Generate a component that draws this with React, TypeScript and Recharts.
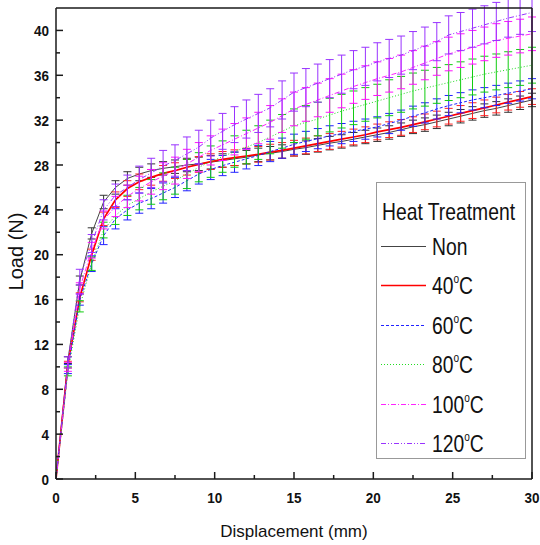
import React from "react";
import {
  ErrorBar,
  Line,
  LineChart,
  ReferenceLine,
  XAxis,
  YAxis,
} from "recharts";

// displacement (mm) where each reading was taken
const displacement = [
  0, 0.75, 1.5, 2.25, 3, 3.75, 4.5, 5.25, 6, 6.75, 7.5, 8.25, 9, 9.75, 10.5,
  11.25, 12, 12.75, 13.5, 14.25, 15, 15.75, 16.5, 17.25, 18, 18.75, 19.5,
  20.25, 21, 21.75, 22.5, 23.25, 24, 24.75, 25.5, 26.25, 27, 27.75, 28.5,
  29.25, 30,
];

// load (N) per treatment
const loadNon = [
  0, 10.6, 17.7, 21.9, 24.7, 26.0, 26.8, 27.2, 27.5, 27.7, 27.85, 28.0, 28.1,
  28.25, 28.4, 28.55, 28.7, 28.9, 29.05, 29.2, 29.4, 29.55, 29.75, 29.95, 30.1,
  30.3, 30.5, 30.7, 30.9, 31.15, 31.4, 31.6, 31.85, 32.1, 32.35, 32.6, 32.85,
  33.05, 33.3, 33.55, 33.8,
];
const load40 = [
  0, 10.2, 16.2, 20.0, 23.2, 24.9, 25.9, 26.5, 26.9, 27.25, 27.5, 27.8, 28.05,
  28.3, 28.5, 28.65, 28.8, 28.95, 29.15, 29.3, 29.5, 29.7, 29.9, 30.1, 30.3,
  30.5, 30.7, 30.95, 31.15, 31.35, 31.6, 31.85, 32.1, 32.35, 32.6, 32.85, 33.1,
  33.35, 33.6, 33.85, 34.1,
];
const load60 = [
  0, 9.8, 16.0, 19.2, 21.7, 23.2, 24.0, 24.6, 25.0, 25.5, 26.0, 26.6, 27.2,
  27.6, 27.95, 28.25, 28.55, 28.85, 29.2, 29.5, 29.85, 30.1, 30.35, 30.6, 30.8,
  31.0, 31.2, 31.4, 31.7, 32.0, 32.35, 32.65, 33.0, 33.3, 33.55, 33.8, 34.0,
  34.2, 34.4, 34.6, 34.8,
];
const load80 = [
  0, 9.6, 15.4, 19.2, 22.2, 23.5, 24.4, 25.0, 25.6, 26.1, 26.6, 27.2, 27.8,
  28.3, 28.75, 29.2, 29.6, 30.0, 30.5, 31.0, 31.5, 31.8, 32.1, 32.45, 32.8,
  33.1, 33.4, 33.7, 34.0, 34.3, 34.6, 34.85, 35.1, 35.35, 35.6, 35.85, 36.1,
  36.3, 36.5, 36.7, 36.9,
];
const load100 = [
  0, 10.0, 17.0, 20.4, 23.1, 24.3, 25.2, 25.9, 26.5, 27.0, 27.5, 28.1, 28.7,
  29.3, 29.8, 30.3, 30.8, 31.3, 31.8, 32.4, 33.0, 33.4, 33.8, 34.2, 34.6, 35.0,
  35.35, 35.7, 36.0, 36.3, 36.7, 37.1, 37.5, 37.9, 38.2, 38.5, 38.8, 39.1,
  39.3, 39.5, 39.7,
];
const load120 = [
  0, 10.4, 18.0, 21.0, 24.0, 25.3, 26.0, 26.7, 27.3, 27.9, 28.4, 29.0, 29.6,
  30.4, 31.0, 31.6, 32.1, 32.6, 33.1, 33.8, 34.5, 34.9, 35.3, 35.7, 36.1, 36.5,
  36.8, 37.2, 37.5, 37.8, 38.2, 38.6, 39.0, 39.6, 39.9, 40.2, 40.5, 40.8, 41.1,
  41.35, 41.6,
];

// +/- error (N) per treatment
const errNon = [
  0, 0.3, 0.4, 0.5, 0.6, 0.6, 0.6, 0.6, 0.6, 0.6, 0.6, 0.6, 0.6, 0.6, 0.6,
  0.6, 0.6, 0.6, 0.6, 0.6, 0.6, 0.6, 0.6, 0.6, 0.6, 0.6, 0.6, 0.6, 0.6, 0.6,
  0.6, 0.6, 0.6, 0.6, 0.6, 0.6, 0.6, 0.6, 0.6, 0.6, 0.6,
];
const err40 = [
  0, 0.3, 0.4, 0.5, 0.6, 0.7, 0.7, 0.7, 0.7, 0.7, 0.7, 0.7, 0.7, 0.7, 0.7,
  0.7, 0.7, 0.7, 0.7, 0.7, 0.7, 0.7, 0.7, 0.7, 0.7, 0.7, 0.7, 0.7, 0.7, 0.7,
  0.7, 0.7, 0.7, 0.7, 0.7, 0.7, 0.7, 0.7, 0.7, 0.7, 0.7,
];
const err60 = [
  0, 0.4, 0.5, 0.7, 0.8, 0.9, 0.9, 0.9, 0.9, 0.9, 0.9, 0.9, 0.9, 0.9, 0.9,
  0.9, 0.9, 0.9, 0.9, 0.9, 0.9, 0.9, 0.9, 0.9, 0.9, 0.9, 0.9, 0.9, 0.9, 0.9,
  0.9, 0.9, 0.9, 0.9, 0.9, 0.9, 0.9, 0.9, 0.9, 0.9, 0.9,
];
const err80 = [
  0, 0.4, 0.5, 0.6, 0.7, 0.8, 0.9, 1.0, 1.1, 1.2, 1.2, 1.3, 1.3, 1.4, 1.4,
  1.4, 1.5, 1.5, 1.5, 1.5, 1.5, 1.5, 1.5, 1.5, 1.5, 1.5, 1.5, 1.5, 1.6, 1.6,
  1.6, 1.6, 1.6, 1.6, 1.6, 1.6, 1.6, 1.6, 1.6, 1.6, 1.6,
];
const err100 = [
  0, 0.4, 0.5, 0.7, 0.8, 0.9, 1.0, 1.1, 1.1, 1.2, 1.2, 1.3, 1.3, 1.3, 1.4,
  1.4, 1.4, 1.4, 1.5, 1.5, 1.5, 1.5, 1.5, 1.5, 1.5, 1.5, 1.5, 1.5, 1.5, 1.5,
  1.5, 1.5, 1.5, 1.5, 1.5, 1.5, 1.5, 1.5, 1.5, 1.5, 1.5,
];
const err120 = [
  0, 0.5, 0.7, 0.8, 0.9, 1.0, 1.1, 1.2, 1.3, 1.4, 1.4, 1.5, 1.5, 1.6, 1.6,
  1.6, 1.7, 1.7, 1.7, 1.7, 1.7, 1.7, 1.7, 1.7, 1.7, 1.7, 1.7, 1.7, 1.7, 1.7,
  1.7, 1.7, 1.7, 1.7, 1.7, 1.7, 1.7, 1.7, 1.7, 1.7, 1.7,
];

const yTicks = [
  0, 2, 4, 6, 8, 10, 12, 14, 16, 18, 20, 22, 24, 26, 28, 30, 32, 34, 36, 38, 40,
];
const xTicks = [0, 2.5, 5, 7.5, 10, 12.5, 15, 17.5, 20, 22.5, 25, 27.5, 30];

const series = [
  { key: "non", label: "Non", deg: false, load: loadNon, err: errNon, color: "#444444", bar: "#333333", width: 1, dash: undefined },
  { key: "t40", label: "40", deg: true, load: load40, err: err40, color: "#ff0000", bar: "#ff2222", width: 1.7, dash: undefined },
  { key: "t60", label: "60", deg: true, load: load60, err: err60, color: "#2222ff", bar: "#2222ff", width: 1, dash: "3 2" },
  { key: "t80", label: "80", deg: true, load: load80, err: err80, color: "#22dd22", bar: "#11cc11", width: 1, dash: "1 2" },
  { key: "t100", label: "100", deg: true, load: load100, err: err100, color: "#ff22ff", bar: "#ff11ff", width: 1, dash: "5 2 1 2" },
  { key: "t120", label: "120", deg: true, load: load120, err: err120, color: "#9933ff", bar: "#9933ff", width: 1, dash: "5 2 1 2 1 2" },
];

const rows = displacement.map((x, i) => {
  const row: Record<string, number> = { x };
  series.forEach((s) => {
    row[s.key] = s.load[i];
    row[s.key + "Err"] = s.err[i];
  });
  return row;
});

const AXIS = "#1a1a1a";
const FONT = "Arial, 'Liberation Sans', sans-serif";

const YTick = (props: any) => {
  const { x, y, payload } = props;
  const major = payload.value % 4 === 0;
  const ax = x + 7;
  return (
    <g>
      <line x1={ax} x2={ax + (major ? 7 : 4)} y1={y} y2={y} stroke={AXIS} strokeWidth={1.5} />
      {major && (
        <g transform={`translate(${x} ${y + 5.5}) scale(0.9 1)`}>
          <text x={0} y={0} textAnchor="end" fontSize={15} fontWeight="bold" fill="#111" fontFamily={FONT}>
            {payload.value}
          </text>
        </g>
      )}
    </g>
  );
};

const XTick = (props: any) => {
  const { x, y, payload } = props;
  const major = payload.value % 5 === 0;
  const ay = y - 10;
  return (
    <g>
      <line x1={x} x2={x} y1={ay} y2={ay - (major ? 7 : 4)} stroke={AXIS} strokeWidth={1.5} />
      {major && (
        <g transform={`translate(${x} ${y + 14}) scale(0.9 1)`}>
          <text x={0} y={0} textAnchor="middle" fontSize={15} fontWeight="bold" fill="#111" fontFamily={FONT}>
            {payload.value}
          </text>
        </g>
      )}
    </g>
  );
};

const YTitle = (props: any) => {
  const { viewBox } = props;
  const cx = viewBox.x + 23;
  const cy = viewBox.y + viewBox.height / 2 + 8;
  return (
    <text x={cx} y={cy} transform={`rotate(-90 ${cx} ${cy})`} textAnchor="middle" fontSize={20} fill="#111" fontFamily={FONT}>
      Load (N)
    </text>
  );
};

const XTitle = (props: any) => {
  const { viewBox } = props;
  return (
    <text x={viewBox.x + viewBox.width / 2} y={viewBox.y + 58} textAnchor="middle" fontSize={17} fill="#111" fontFamily={FONT}>
      Displacement (mm)
    </text>
  );
};

function HeatLegend() {
  return (
    <svg width={540} height={545} style={{ position: "absolute", left: 0, top: 0, pointerEvents: "none" }}>
      <rect x={376.5} y={182.5} width={149} height={276} fill="#fff" stroke="#999" strokeWidth={1} />
      <g transform="translate(382 220) scale(0.84 1)">
        <text x={0} y={0} fontSize={23} fill="#111" fontFamily={FONT}>Heat Treatment</text>
      </g>
      {series.map((s, i) => {
        const cy = Math.round(246 + i * 39.4) + 0.5;
        return (
          <g key={s.key}>
            <line x1={381} x2={426} y1={cy} y2={cy} stroke={s.color} strokeWidth={s.width} strokeDasharray={s.dash} />
            <g transform={`translate(432 ${cy + 8}) scale(0.84 1)`}>
              <text x={0} y={0} fontSize={23} fill="#111" fontFamily={FONT}>
                {s.label}
                {s.deg && (
                  <>
                    <tspan fontSize={12} dy={-11}>o</tspan>
                    <tspan dy={11}>C</tspan>
                  </>
                )}
              </text>
            </g>
          </g>
        );
      })}
    </svg>
  );
}

export default function App() {
  return (
    <div style={{ position: "absolute", left: 0, top: 0, width: 540, height: 545, background: "#fff" }}>
      <LineChart width={540} height={545} data={rows} margin={{ top: 8, right: 8, bottom: 0, left: 0 }}>
        <XAxis
          dataKey="x"
          type="number"
          domain={[0, 30]}
          allowDataOverflow
          ticks={xTicks}
          interval={0}
          height={66}
          tickSize={0}
          tickMargin={10}
          tickLine={false}
          tick={<XTick />}
          axisLine={{ stroke: AXIS, strokeWidth: 1.5 }}
          label={<XTitle />}
        />
        <YAxis
          type="number"
          domain={[0, 42]}
          allowDataOverflow
          ticks={yTicks}
          interval={0}
          width={56}
          tickSize={0}
          tickMargin={7}
          tickLine={false}
          tick={<YTick />}
          axisLine={{ stroke: AXIS, strokeWidth: 1.5 }}
          label={<YTitle />}
        />
        {series.map((s) => (
          <Line
            key={s.key}
            type="linear"
            dataKey={s.key}
            stroke={s.color}
            strokeWidth={s.width}
            strokeDasharray={s.dash}
            dot={false}
            isAnimationActive={false}
          >
            <ErrorBar dataKey={s.key + "Err"} direction="y" width={4} stroke={s.bar} strokeWidth={1} isAnimationActive={false} />
          </Line>
        ))}
        <ReferenceLine y={42} stroke={AXIS} strokeWidth={1.5} />
        <ReferenceLine x={30} stroke={AXIS} strokeWidth={1.5} />
      </LineChart>
      <HeatLegend />
    </div>
  );
}
